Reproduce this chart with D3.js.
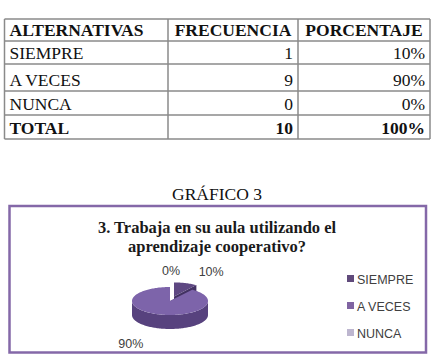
<!DOCTYPE html>
<html>
<head>
<meta charset="utf-8">
<script src="https://cdn.jsdelivr.net/npm/d3@7"></script>
<style>
html,body{margin:0;padding:0;background:#fff;}
svg{display:block;}
</style>
</head>
<body>
<svg id="c" width="437" height="357"></svg>
<script>
// ---- data ----
const headers = ["ALTERNATIVAS", "FRECUENCIA", "PORCENTAJE"];
const alternativas = ["SIEMPRE", "A VECES", "NUNCA"];
const frecuencia = [1, 9, 0];
const porcentaje = ["10%", "90%", "0%"];
const totalRow = ["TOTAL", "10", "100%"];
const figureTitle = "GRÁFICO 3";
const chartTitle = ["3. Trabaja en su aula utilizando el", "aprendizaje cooperativo?"];
const pieValues = [1, 9, 0];
const pieLabels = ["10%", "90%", "0%"];
const legendColors = ["#604A7B", "#8064A2", "#BDB6CF"];
const topColors = ["#5E4882", "#7D64AA", "#BDB6CF"];
const sideColors = ["#433263", "#57427E", "#8F86A6"];

const SERIF = "'Liberation Serif', 'Times New Roman', serif";
const SANS = "'Liberation Sans', Arial, sans-serif";
const svg = d3.select("#c");

// ---- table ----
const rowEdges = [19, 41, 64, 91, 115, 139];
const colEdges = [4.5, 168, 298, 430];
const tableRows = [headers].concat(alternativas.map((a, i) => [a, String(frecuencia[i]), porcentaje[i]]), [totalRow]);
const bold = [true, false, false, false, true];

const tg = svg.append("g");
rowEdges.forEach(y => tg.append("line").attr("x1", colEdges[0]).attr("x2", colEdges[3]).attr("y1", y).attr("y2", y)
  .attr("stroke", "#8a8a8a").attr("stroke-width", 1.5));
colEdges.forEach(x => tg.append("line").attr("x1", x).attr("x2", x).attr("y1", rowEdges[0]).attr("y2", rowEdges[5])
  .attr("stroke", "#8a8a8a").attr("stroke-width", 1.5));

tableRows.forEach((row, r) => {
  const yb = rowEdges[r + 1] - 5;
  row.forEach((cell, c) => {
    let x, anchor;
    if (c === 0) { x = colEdges[0] + 5; anchor = "start"; }
    else if (r === 0) { x = (colEdges[c] + colEdges[c + 1]) / 2; anchor = "middle"; }
    else { x = colEdges[c + 1] - 5; anchor = "end"; }
    tg.append("text").attr("x", x).attr("y", yb).attr("text-anchor", anchor)
      .attr("font-family", SERIF)
      .attr("font-size", 17.5).attr("font-weight", bold[r] ? "bold" : "normal")
      .attr("fill", "#111").text(cell);
  });
});

// ---- figure title ----
svg.append("text").attr("x", 217).attr("y", 200).attr("text-anchor", "middle")
  .attr("font-family", SERIF).attr("font-size", 17.5)
  .attr("fill", "#111").text(figureTitle);

// ---- chart box ----
svg.append("rect").attr("x", 9.5).attr("y", 206).attr("width", 416.5).attr("height", 146.5)
  .attr("fill", "#fff").attr("stroke", "#8468A8").attr("stroke-width", 2.5);

chartTitle.forEach((t, i) => svg.append("text").attr("x", 217).attr("y", 233 + i * 19).attr("text-anchor", "middle")
  .attr("font-family", SERIF).attr("font-size", 16.5).attr("font-weight", "bold")
  .attr("fill", "#1a1a1a").text(t));

// ---- 3D pie ----
const cx = 170, cy = 301, rx = 38, ry = 14, depth = 14, explode = 13;
const pie = d3.pie().sort(null).value(d => d)(pieValues);
const ell = (a, ox, oy, dy = 0) => [ox + rx * Math.sin(a), oy - ry * Math.cos(a) + dy];

function arcPts(a0, a1, ox, oy, dy) {
  const n = Math.max(2, Math.ceil(Math.abs(a1 - a0) / 0.03));
  return d3.range(n + 1).map(i => ell(a0 + (a1 - a0) * i / n, ox, oy, dy));
}
const line = d3.line();
const pg = svg.append("g");

const slices = pie.map((p, i) => {
  const mid = (p.startAngle + p.endAngle) / 2;
  const ex = i === 0 ? explode : 0;
  return { p, i, ox: cx + ex * Math.sin(mid), oy: cy - ex * Math.cos(mid) * ry / rx, mid };
}).filter(s => s.p.endAngle > s.p.startAngle);

// back-most slices first
slices.sort((a, b) => Math.cos(b.mid) - Math.cos(a.mid));

slices.forEach(s => {
  const { p, i, ox, oy } = s;
  [p.startAngle, p.endAngle].forEach(a => {
    const e = ell(a, ox, oy);
    pg.append("path").attr("d", line([[ox, oy], e, [e[0], e[1] + depth], [ox, oy + depth]]) + "Z")
      .attr("fill", sideColors[i]);
  });
  const a0 = Math.max(p.startAngle, Math.PI / 2), a1 = Math.min(p.endAngle, 3 * Math.PI / 2);
  if (a1 > a0) {
    const top = arcPts(a0, a1, ox, oy, 0), bot = arcPts(a1, a0, ox, oy, depth);
    pg.append("path").attr("d", line(top.concat(bot)) + "Z").attr("fill", sideColors[i]);
  }
  const pts = [[ox, oy]].concat(arcPts(p.startAngle, p.endAngle, ox, oy, 0));
  pg.append("path").attr("d", line(pts) + "Z").attr("fill", topColors[i]);
});

// pie labels
const rxL = 130, ryL = 30;
pie.forEach((p, i) => {
  const mid = (p.startAngle + p.endAngle) / 2;
  const c = Math.cos(mid);
  const lx = cx + rxL * Math.sin(mid) + 1;
  const ly = cy - ryL * c + (c < 0 ? depth : 0) + 4;
  svg.append("text").attr("x", lx).attr("y", ly).attr("text-anchor", "middle")
    .attr("font-family", SANS).attr("font-size", 12.5)
    .attr("fill", "#404040").text(pieLabels[i]);
});

// ---- legend ----
const lg = svg.append("g");
const lyS = d3.scalePoint().domain(alternativas).range([279, 333]);
alternativas.forEach((a, i) => {
  lg.append("rect").attr("x", 347).attr("y", lyS(a) - 4).attr("width", 7).attr("height", 7).attr("fill", legendColors[i]);
  lg.append("text").attr("x", 357).attr("y", lyS(a) + 4.5)
    .attr("font-family", SANS).attr("font-size", 12.5)
    .attr("fill", "#404040").text(a);
});
</script>
</body>
</html>
